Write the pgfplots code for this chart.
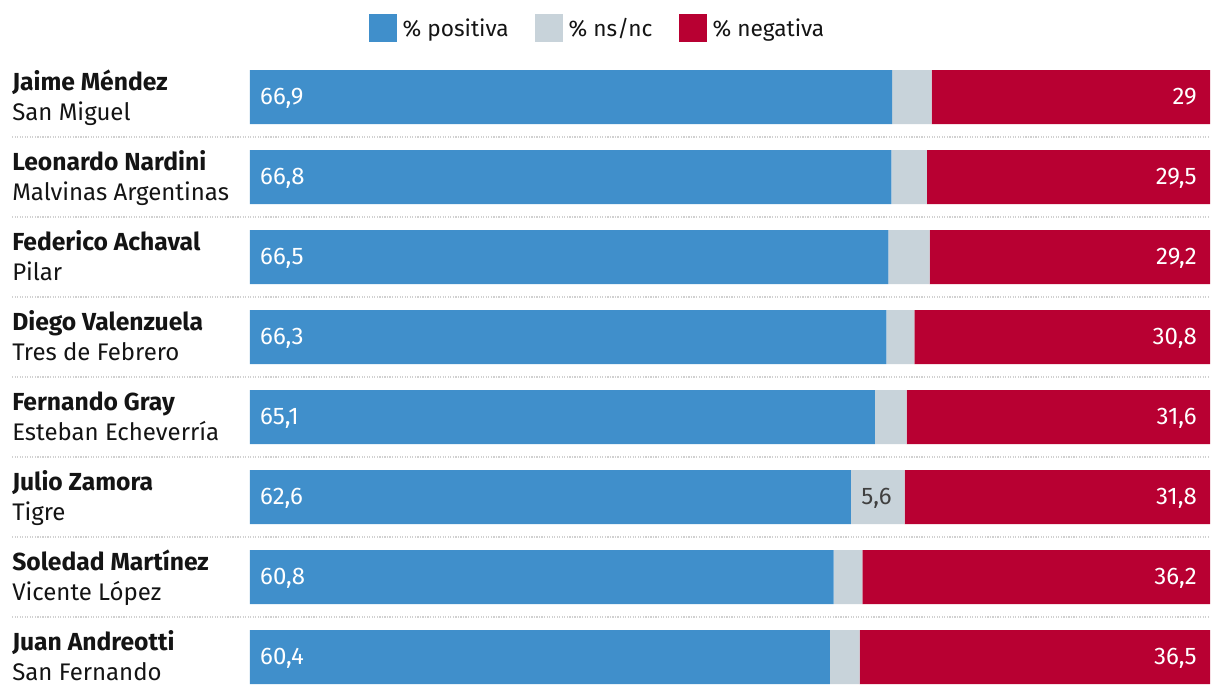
\documentclass[border=0pt]{standalone}
\usepackage{pgfplots}
\pgfplotsset{compat=1.18}
\usepackage{pgfplotstable}
\usepackage{fontspec}
\setmainfont{Fira Sans}
\definecolor{cpos}{RGB}{64,143,203}
\definecolor{cns}{RGB}{200,211,218}
\definecolor{cneg}{RGB}{184,0,50}
\definecolor{ctxt}{RGB}{20,20,20}
\newcommand\fs{\fontsize{18}{20}\selectfont}
\newcommand\fn{\fontsize{18.5}{20}\selectfont}
\newcommand\rowlab[5]{%
  \node[anchor=base west, inner sep=0pt, font=\fn\bfseries, text=ctxt] at (axis cs:-24.79,#1-0.0875) {#2};
  \node[anchor=base west, inner sep=0pt, font=\fs, text=ctxt] at (axis cs:-24.79,#1+0.2875) {#3};
  \node[anchor=base west, inner sep=0pt, font=\fs, text=white] at (axis cs:1.04,#1+0.0875) {#4};
  \node[anchor=base east, inner sep=0pt, font=\fs, text=white] at (axis cs:98.65,#1+0.0875) {#5};}
\pgfplotstableread{
row pos ns neg
0 66.9 4.1 29.0
1 66.8 3.7 29.5
2 66.5 4.3 29.2
3 66.3 2.9 30.8
4 65.1 3.3 31.6
5 62.6 5.6 31.8
6 60.8 3.0 36.2
7 60.4 3.1 36.5
}\datatable
\pgfplotsset{base/.style={scale only axis, width=720pt, height=480pt,
  xmin=0, xmax=100, ymin=-0.5, ymax=7.5, y dir=reverse,
  axis lines=none, clip=false}}
\begin{document}
\begin{tikzpicture}
\begin{axis}[
  base,
  xbar stacked, bar width=0.675,
  legend columns=3,
  legend style={at={(0.364,1.045)}, anchor=center, draw=none, fill=none,
    font=\fontsize{17}{19}\selectfont\color{ctxt},
    /tikz/every even column/.append style={column sep=15pt},
    nodes={inner xsep=4.5pt}},
  legend image code/.code={\fill[#1] (0pt,-10.5pt) rectangle (21pt,10.5pt);},
]
\addplot[fill=cpos, draw=none] table[x=pos, y=row] {\datatable};
\addlegendentry{\% positiva}
\addplot[fill=cns, draw=none] table[x=ns, y=row] {\datatable};
\addlegendentry{\% ns/nc}
\addplot[fill=cneg, draw=none] table[x=neg, y=row] {\datatable};
\addlegendentry{\% negativa}
\end{axis}
\begin{axis}[base]
\pgfplotsinvokeforeach{0,...,6}{
  \draw[densely dotted, line width=0.9pt, color=black!18] (axis cs:-24.79,#1+0.5) -- (axis cs:100,#1+0.5);
}
\rowlab{0}{Jaime Méndez}{San Miguel}{66,9}{29}
\rowlab{1}{Leonardo Nardini}{Malvinas Argentinas}{66,8}{29,5}
\rowlab{2}{Federico Achaval}{Pilar}{66,5}{29,2}
\rowlab{3}{Diego Valenzuela}{Tres de Febrero}{66,3}{30,8}
\rowlab{4}{Fernando Gray}{Esteban Echeverría}{65,1}{31,6}
\rowlab{5}{Julio Zamora}{Tigre}{62,6}{31,8}
\rowlab{6}{Soledad Martínez}{Vicente López}{60,8}{36,2}
\rowlab{7}{Juan Andreotti}{San Fernando}{60,4}{36,5}
\node[anchor=base west, inner sep=0pt, font=\fs, text=black!75] at (axis cs:63.65,5.0875) {5,6};
\end{axis}
\pgfresetboundingbox
\useasboundingbox (-187.5pt,2.25pt) rectangle (727.5pt,522.75pt);
\end{tikzpicture}
\end{document}
